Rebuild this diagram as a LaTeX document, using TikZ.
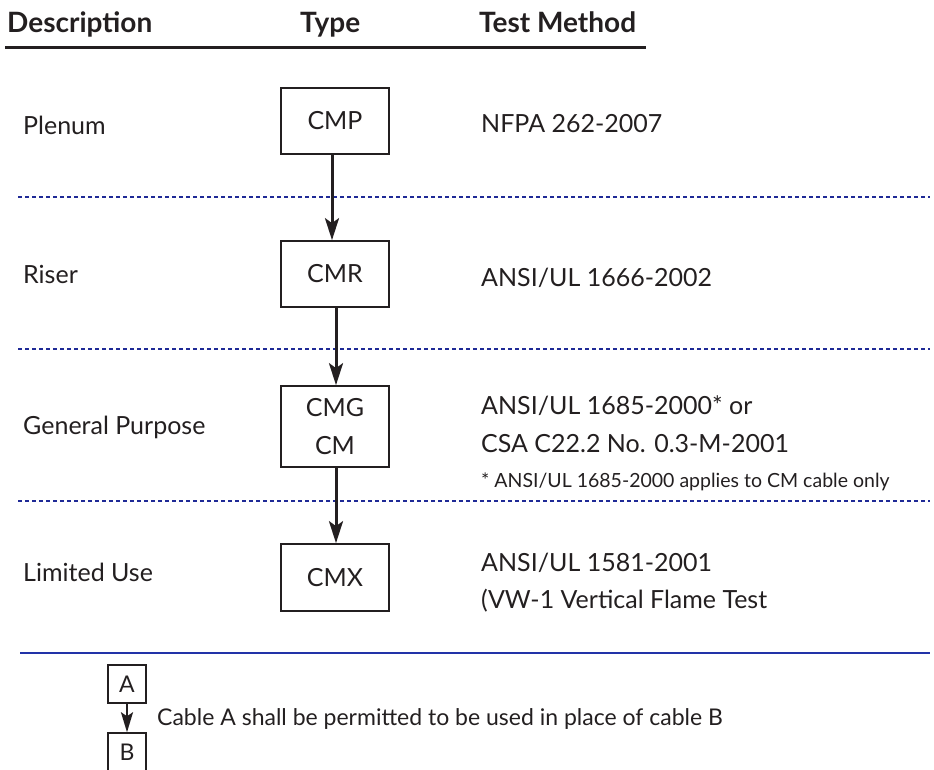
\documentclass[tikz,border=0pt]{standalone}
\usepackage{fontspec}
\setmainfont{Lato}
\usetikzlibrary{arrows.meta}
\definecolor{ink}{HTML}{231F20}
\definecolor{navy}{HTML}{1F2A96}
\definecolor{rule}{HTML}{2233A8}
\tikzset{
  hdr/.style={anchor=base west, inner sep=0pt, font=\fontsize{28}{30}\selectfont\bfseries, text=ink},
  txt/.style={anchor=base west, inner sep=0pt, font=\fontsize{25}{28}\selectfont, text=ink},
  small/.style={anchor=base west, inner sep=0pt, font=\fontsize{19.5}{22}\selectfont, text=ink},
  typebox/.style={draw=ink, line width=1.7pt, minimum width=108pt, inner sep=0pt, align=center,
    font=\fontsize{25}{38}\selectfont, text=ink},
  legbox/.style={draw=ink, line width=1.5pt, minimum width=38pt, minimum height=38pt, inner sep=0pt,
    font=\fontsize{23}{26}\selectfont, text=ink},
  sep/.style={draw=navy, line width=1.3pt, dash pattern=on 4pt off 3pt},
  flow/.style={draw=ink, line width=3pt, -{Stealth[length=22pt, width=14pt, inset=5pt]}},
  legflow/.style={draw=ink, line width=2.2pt, -{Stealth[length=20pt, width=12pt, inset=4pt]}}
}
\begin{document}
\begin{tikzpicture}[x=1pt, y=-1pt]
\useasboundingbox (0,0) rectangle (934,769);
% header
\node[hdr] (hdesc) at (7,32) {Description};
\node[hdr] (htype) at (300,32) {Type};
\node[hdr] (hmeth) at (479,32) {Test Method};
\coordinate (ul1) at (5,47);
\coordinate (ul2) at (646,47);
\draw[ink, line width=3pt] (ul1) -- (ul2);
% separators
\coordinate (s1a) at (18,197);  \coordinate (s1b) at (930,197);
\coordinate (s2a) at (18,349);  \coordinate (s2b) at (930,349);
\coordinate (s3a) at (18,501);  \coordinate (s3b) at (930,501);
\draw[sep] (s1a) -- (s1b);
\draw[sep] (s2a) -- (s2b);
\draw[sep] (s3a) -- (s3b);
\coordinate (r1) at (20,653); \coordinate (r2) at (930,653);
\draw[rule, line width=1.5pt] (r1) -- (r2);
% descriptions
\node[txt] (dpl) at (23,134) {Plenum};
\node[txt] (dri) at (23,283) {Riser};
\node[txt] (dgp) at (23,434) {General Purpose};
\node[txt] (dlu) at (23,581) {Limited Use};
% type boxes
\node[typebox, minimum height=66pt] (cmp) at (335,121) {CMP};
\node[typebox, minimum height=66pt] (cmr) at (335,274) {CMR};
\node[typebox, minimum height=81pt] (cmg) at (335,426.5) {CMG\\CM};
\node[typebox, minimum height=67pt] (cmx) at (335,577.5) {CMX};
% arrows
\draw[flow] ([xshift=-3pt]cmp.south) -- ([xshift=-3pt]cmr.north);
\draw[flow] ([xshift=1pt]cmr.south) -- ([xshift=1pt]cmg.north);
\draw[flow] ([xshift=1pt]cmg.south) -- ([xshift=1pt]cmx.north);
% methods
\node[txt] (m1) at (481,132) {NFPA 262-2007};
\node[txt] (m2) at (481,286) {ANSI/UL 1666-2002};
\node[txt] (m3) at (481,414) {ANSI/UL 1685-2000* or};
\node[txt] (m4) at (481,452) {CSA C22.2 No. 0.3-M-2001};
\node[small] (m5) at (481,487) {* ANSI/UL 1685-2000 applies to CM cable only};
\node[txt] (m6) at (481,571) {ANSI/UL 1581-2001};
\node[txt] (m7) at (481,608) {(VW-1 Vertical Flame Test};
% legend
\node[legbox] (la) at (127,684) {A};
\node[legbox] (lb) at (127,752) {B};
\draw[legflow] (la.south) -- (lb.north);
\node[txt, font=\fontsize{23}{26}\selectfont] (ltxt) at (157,725) {Cable A shall be permitted to be used in place of cable B};
\end{tikzpicture}
\end{document}
